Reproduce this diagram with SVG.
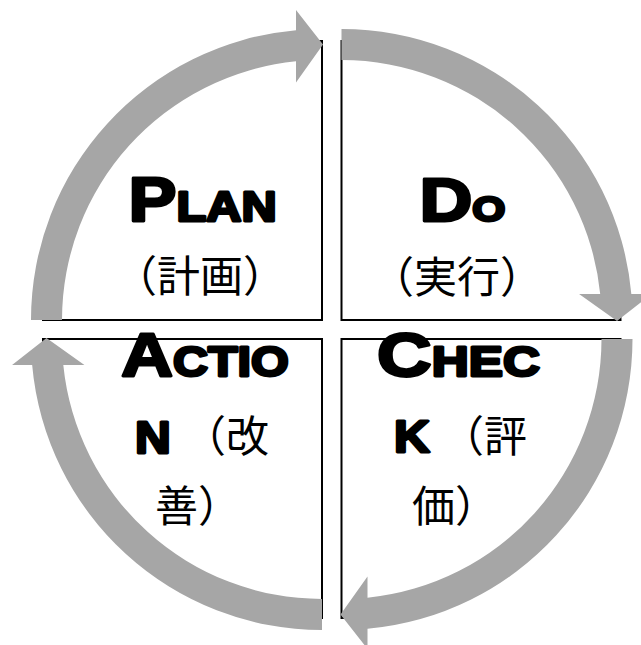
<svg xmlns="http://www.w3.org/2000/svg" width="641" height="645" viewBox="0 0 641 645">
<style>
.pie{fill:#fff;stroke:#000;stroke-width:2}
.arw{fill:#a6a6a6;stroke:none}
.lat{font-family:"Liberation Sans",Arial,sans-serif;font-weight:700;fill:#000;stroke:#000;stroke-width:2.8;stroke-linejoin:round}
.big{font-size:62px}
.sm{font-size:42px}
.ln{font-size:45px}
.cjk{font-family:"Liberation Sans","Noto Sans CJK JP",sans-serif;font-size:43px;fill:#000}
</style>
<rect width="641" height="645" fill="#fff"/>
<g id="plan">
<path class="pie" d="M322,320 L43,320 A279,279 0 0 1 322,41 Z"/>
<text class="lat" text-anchor="middle" transform="translate(202.6,221) scale(1.16,1)"><tspan class="big">P</tspan><tspan class="sm">LAN</tspan></text>
<text class="cjk" x="200" y="292" text-anchor="middle">（計画）</text>
</g>
<g id="do">
<path class="pie" d="M341.5,320 L341.5,41 A279,279 0 0 1 620.5,320 Z"/>
<text class="lat" text-anchor="middle" transform="translate(462.4,221) scale(1.18,1)"><tspan class="big">D</tspan><tspan font-size="36">O</tspan></text>
<text class="cjk" x="457" y="293" text-anchor="middle">（実行）</text>
</g>
<g id="action">
<path class="pie" d="M322,339 L322,618 A279,279 0 0 1 43,339 Z"/>
<text class="lat" text-anchor="middle" transform="translate(205,376) scale(1.155,1)"><tspan class="big">A</tspan><tspan class="sm">CTIO</tspan></text>
<text class="lat ln" transform="translate(135,453) scale(1.1,1)">N</text>
<text class="cjk" x="269" y="452" text-anchor="end">（改</text>
<text class="cjk" x="198" y="522" text-anchor="middle">善）</text>
</g>
<g id="check">
<path class="pie" d="M341.5,339 L620.5,339 A279,279 0 0 1 341.5,618 Z"/>
<text class="lat" text-anchor="middle" transform="translate(458.5,376) scale(1.22,1)"><tspan class="big">C</tspan><tspan class="sm">HEC</tspan></text>
<text class="lat ln" transform="translate(394,452) scale(1.1,1)">K</text>
<text class="cjk" x="527" y="452" text-anchor="end">（評</text>
<text class="cjk" x="455" y="522" text-anchor="middle">価）</text>
</g>
<g id="connectors">
<path class="arw" d="M31,320 A291,291 0 0 1 296,30.16 L296,10.09 L323,44.5 L296,82.42 L296,61.3 A260,260 0 0 0 62,320 Z"/>
<path class="arw" d="M341.5,29 A291,291 0 0 1 631.34,294 L651.41,294 L617,321 L579.08,294 L600.2,294 A260,260 0 0 0 341.5,60 Z"/>
<path class="arw" d="M632.5,339 A291,291 0 0 1 367.5,628.84 L367.5,648.91 L340.5,614.5 L367.5,576.58 L367.5,597.7 A260,260 0 0 0 601.5,339 Z"/>
<path class="arw" d="M322,630 A291,291 0 0 1 32.16,365 L12.09,365 L46.5,338 L84.42,365 L63.3,365 A260,260 0 0 0 322,599 Z"/>
</g>
</svg>
